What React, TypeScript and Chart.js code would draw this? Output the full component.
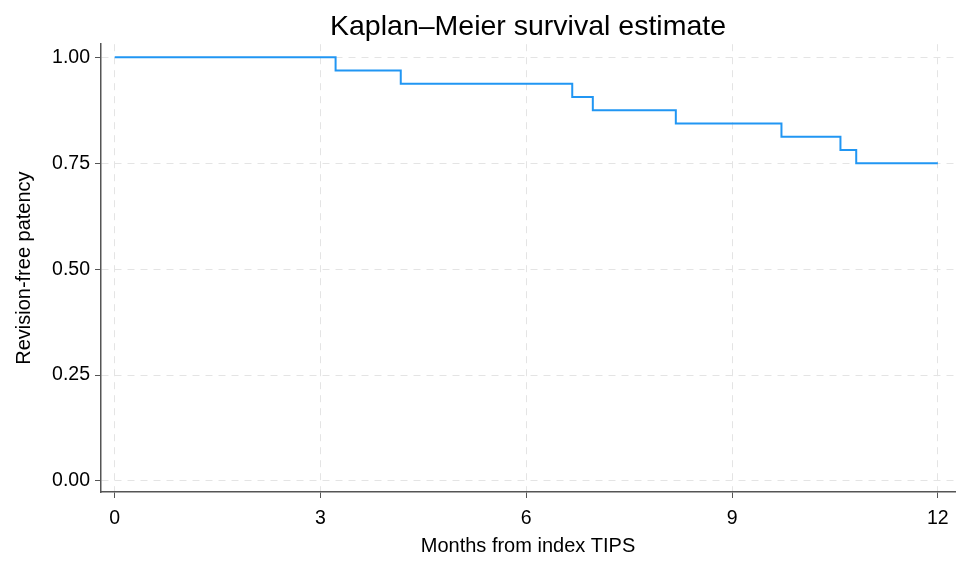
import React, { useEffect, useRef } from "react";
import { Chart, registerables } from "chart.js";

Chart.register(...registerables);

// Kaplan–Meier estimate: event times (months) and survival after each event
const eventTimes = [0, 3.22, 4.17, 6.67, 6.97, 8.18, 9.72, 10.58, 10.81, 12];
const survival = [1, 0.96875, 0.9375, 0.90625, 0.875, 0.84375, 0.8125, 0.78125, 0.75, 0.75];

const xTicks = [0, 3, 6, 9, 12];
const yTicks = [0, 0.25, 0.5, 0.75, 1];

const FONT = "'Liberation Sans', Arial, Helvetica, sans-serif";

export default function App() {
  const ref = useRef<HTMLCanvasElement | null>(null);

  useEffect(() => {
    document.body.style.margin = "0";
    const canvas = ref.current;
    if (!canvas) return;

    const points = eventTimes.map((t, i) => ({ x: t, y: survival[i] }));

    const chart = new Chart(canvas, {
      type: "line",
      data: {
        datasets: [
          {
            data: points,
            stepped: "before",
            borderColor: "#2196f3",
            borderWidth: 2,
            pointRadius: 0,
            fill: false,
          },
        ],
      },
      options: {
        animation: false,
        responsive: false,
        maintainAspectRatio: false,
        layout: { padding: { left: 0, right: 5, top: 0, bottom: 0 } },
        plugins: {
          legend: { display: false },
          tooltip: { enabled: false },
          title: {
            display: true,
            text: "Kaplan–Meier survival estimate",
            fullSize: false,
            color: "#000",
            font: { family: FONT, size: 28.5, weight: "normal" },
            padding: { top: 10, bottom: 0 },
          },
        },
        scales: {
          x: {
            type: "linear",
            min: -0.2,
            max: 12.25,
            afterBuildTicks: (s: any) => {
              s.ticks = xTicks.map((v) => ({ value: v }));
            },
            afterFit: (s: any) => {
              s.height = 70;
            },
            border: { display: true, color: "#555", width: 1.5, dash: [7, 6] },
            grid: {
              color: "#e4e4e4",
              lineWidth: 1,
              tickLength: 6,
              tickColor: "#555",
              tickWidth: 1,
            },
            ticks: {
              color: "#000",
              font: { family: FONT, size: 19.5 },
              padding: 9,
              maxRotation: 0,
              callback: (v: any) => String(v),
            },
            title: {
              display: true,
              text: "Months from index TIPS",
              color: "#000",
              font: { family: FONT, size: 20 },
              padding: { top: 4, bottom: 4 },
            },
          },
          y: {
            type: "linear",
            min: -0.026,
            max: 1.031,
            afterBuildTicks: (s: any) => {
              s.ticks = yTicks.map((v) => ({ value: v }));
            },
            afterFit: (s: any) => {
              s.width = 101;
            },
            border: { display: true, color: "#555", width: 1.5, dash: [7, 6] },
            grid: {
              color: "#e4e4e4",
              lineWidth: 1,
              tickLength: 6,
              tickColor: "#555",
              tickWidth: 1,
            },
            ticks: {
              color: "#000",
              font: { family: FONT, size: 19.5 },
              padding: 5,
              callback: (v: any) => Number(v).toFixed(2),
            },
            title: {
              display: true,
              text: "Revision-free patency",
              color: "#000",
              font: { family: FONT, size: 20 },
              padding: { top: 12, bottom: 12 },
            },
          },
        },
      },
    });

    return () => chart.destroy();
  }, []);

  return (
    <div style={{ position: "fixed", left: 0, top: 0, width: 960, height: 562, background: "#fff" }}>
      <canvas ref={ref} width={960} height={562} />
    </div>
  );
}
